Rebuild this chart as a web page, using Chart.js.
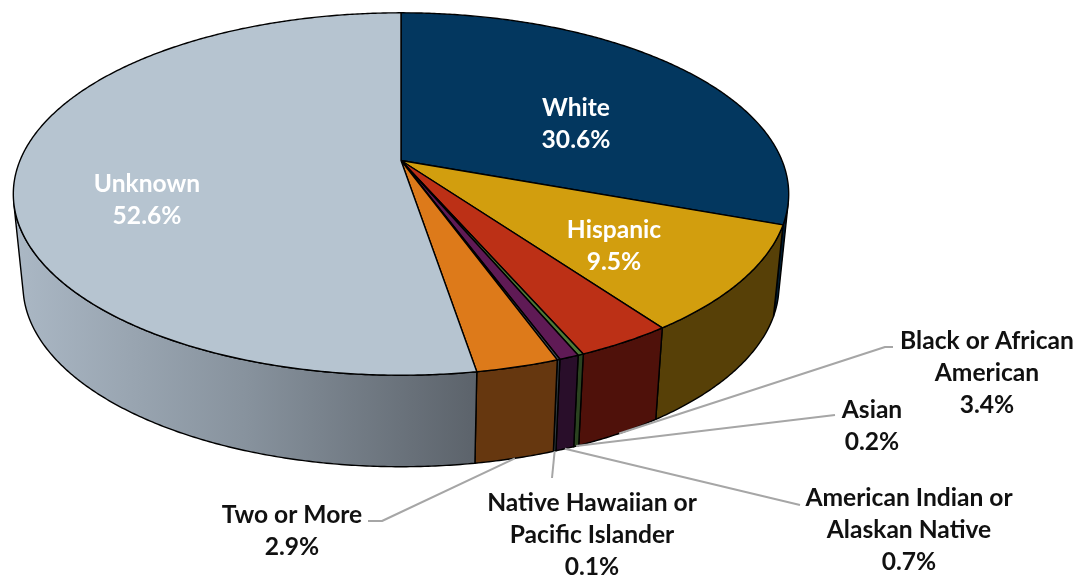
<!DOCTYPE html>
<html>
<head>
<meta charset="utf-8">
<style>
  body { margin: 0; background: #fff; }
  canvas { display: block; }
</style>
</head>
<body>
<canvas id="myChart" width="1085" height="577"></canvas>
<script src="https://cdn.jsdelivr.net/npm/chart.js@4"></script>
<script>
// data, clockwise from 12 o'clock
var categories = ['White', 'Hispanic', 'Black or African American', 'Asian', 'American Indian or Alaskan Native', 'Native Hawaiian or Pacific Islander', 'Two or More', 'Unknown'];
var shares = [30.6, 9.5, 3.4, 0.2, 0.7, 0.1, 2.9, 52.6];
var topColors = ['#03375f', '#d29e0e', '#bc3016', '#4f7a36', '#5f1a55', '#4a5560', '#dd7a1a', '#b6c4d0'];
var sideColors = ['#011c30', '#574007', '#4f110a', '#2b4320', '#290e2a', '#2f3a40', '#66370f', null];

// label layout: lines, centre x, first line middle y, colour, leader polyline start
var labels = [
  { lines: ['White', '30.6%'], x: 576, y: 108, color: '#fff' },
  { lines: ['Hispanic', '9.5%'], x: 614, y: 230, color: '#fff' },
  { lines: ['Black or African', 'American', '3.4%'], x: 987, y: 341, color: '#111', leader: [[893, 347], [885, 347]] },
  { lines: ['Asian', '0.2%'], x: 872, y: 410, color: '#111', leader: [[835, 415]] },
  { lines: ['American Indian or', 'Alaskan Native', '0.7%'], x: 909, y: 498, color: '#111', leader: [[800, 505]] },
  { lines: ['Native Hawaiian or', 'Pacific Islander', '0.1%'], x: 592, y: 503, color: '#111', leader: [[552, 478]] },
  { lines: ['Two or More', '2.9%'], x: 292, y: 515, color: '#111', leader: [[368, 521], [382, 521]] },
  { lines: ['Unknown', '52.6%'], x: 147, y: 184, color: '#fff' }
];

// perspective of the tilted disc
var cx = 401, cy = 160.5, rx = 381, ry = 175, persp = 0.185;
var depth = 91.5, shrink = 0.975;
var STEP = 0.008;

function topPoint(a) {
  var w = 1 - persp * Math.sin(a);
  return [cx + rx * Math.cos(a) / w, cy + ry * Math.sin(a) / w];
}
function bottomPoint(a) {
  var p = topPoint(a);
  return [cx + (p[0] - cx) * shrink, p[1] + depth];
}
function rim(ctx, fn, a0, a1) {
  var n = Math.max(2, Math.ceil(Math.abs(a1 - a0) / STEP));
  for (var i = 0; i <= n; i++) {
    var p = fn(a0 + (a1 - a0) * i / n);
    ctx.lineTo(p[0], p[1]);
  }
}
// where the wall direction runs along the rim: the outline of the solid
function silhouetteAngles() {
  var found = [], prev = null;
  for (var a = -Math.PI / 2; a < Math.PI * 1.5; a += STEP) {
    var t0 = topPoint(a), t1 = topPoint(a + STEP), b0 = bottomPoint(a);
    var c = (t1[0] - t0[0]) * (b0[1] - t0[1]) - (t1[1] - t0[1]) * (b0[0] - t0[0]);
    if (prev !== null && (c > 0) !== (prev > 0)) found.push(a);
    prev = c;
  }
  return found;
}

var pie3d = {
  id: 'pie3d',
  beforeDatasetsDraw: function (chart) {
    var ctx = chart.ctx;
    var arcs = chart.getDatasetMeta(0).data;
    var edge = silhouetteAngles();
    ctx.save();
    ctx.lineJoin = 'round';
    ctx.strokeStyle = '#000';
    ctx.lineWidth = 1.4;

    // side walls, only the part facing the viewer
    arcs.forEach(function (arc, i) {
      var a0 = Math.max(arc.startAngle, edge[0]);
      var a1 = Math.min(arc.endAngle, edge[1]);
      if (a1 <= a0) return;
      var fill = sideColors[i];
      if (!fill) {
        fill = ctx.createLinearGradient(20, 0, 475, 0);
        fill.addColorStop(0, '#aab7c4');
        fill.addColorStop(0.5, '#87929d');
        fill.addColorStop(1, '#5c636b');
      }
      ctx.beginPath();
      rim(ctx, topPoint, a0, a1);
      rim(ctx, bottomPoint, a1, a0);
      ctx.closePath();
      ctx.fillStyle = fill;
      ctx.fill();
      ctx.stroke();
    });

    // top surface
    arcs.forEach(function (arc, i) {
      ctx.beginPath();
      ctx.moveTo(cx, cy);
      rim(ctx, topPoint, arc.startAngle, arc.endAngle);
      ctx.closePath();
      ctx.fillStyle = topColors[i];
      ctx.fill();
      ctx.stroke();
    });

    // leader lines end on the bottom rim, at the middle of each slice
    ctx.strokeStyle = '#a6a6a6';
    ctx.lineWidth = 2;
    labels.forEach(function (l, i) {
      if (!l.leader) return;
      var end = bottomPoint((arcs[i].startAngle + arcs[i].endAngle) / 2);
      ctx.beginPath();
      l.leader.forEach(function (p) { ctx.lineTo(p[0], p[1]); });
      ctx.lineTo(end[0], end[1]);
      ctx.stroke();
    });

    // data labels
    ctx.font = 'bold 24.6px Lato';
    ctx.textAlign = 'center';
    ctx.textBaseline = 'middle';
    labels.forEach(function (l) {
      ctx.fillStyle = l.color;
      l.lines.forEach(function (t, j) {
        ctx.fillText(t, l.x, l.y + j * 32);
      });
    });
    ctx.restore();
    return false;
  }
};

var myChart = new Chart(document.getElementById('myChart').getContext('2d'), {
  type: 'pie',
  data: {
    labels: categories,
    datasets: [{ data: shares, backgroundColor: topColors }]
  },
  options: {
    responsive: false,
    animation: false,
    plugins: { legend: { display: false }, tooltip: { enabled: false } }
  },
  plugins: [pie3d]
});
</script>
</body>
</html>
